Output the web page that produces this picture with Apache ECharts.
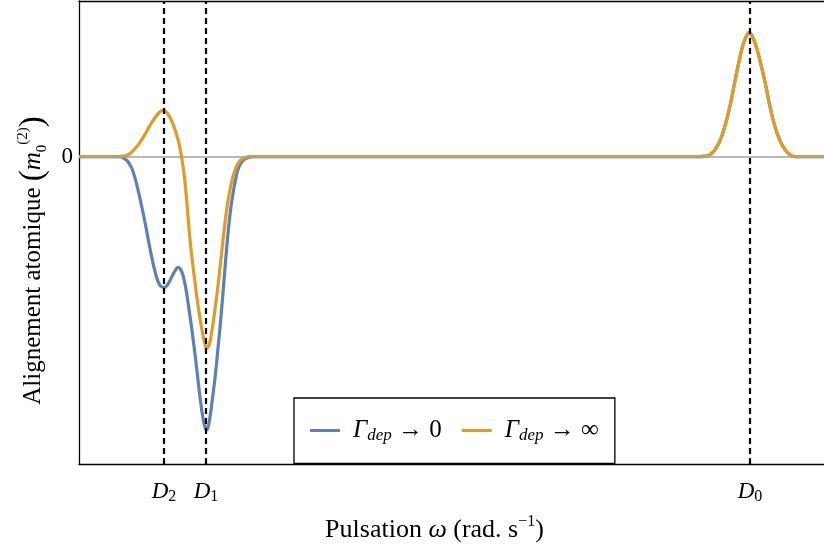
<!DOCTYPE html>
<html>
<head>
<meta charset="utf-8">
<script src="https://cdn.jsdelivr.net/npm/echarts@6/dist/echarts.min.js"></script>
<style>
  html, body { margin: 0; padding: 0; background: #fff; }
  #chart { width: 824px; height: 548px; }
</style>
</head>
<body>
<div id="chart"></div>
<script>
// pulsation (arbitrary units) / alignement
var omegaBlue = [0, 40, 44, 48, 52, 55, 58, 61, 64, 67, 70, 73, 76, 79, 82, 85, 88, 91, 94, 97, 99, 101, 103, 105, 107, 109, 112, 115, 118, 121, 124, 126, 127.5, 129, 131, 133, 136, 139, 142, 145, 148, 151, 154, 157, 160, 164, 169, 175, 230, 621]
var alignBlue = [0, 0, -1, -4, -10, -18, -29, -42, -56, -71, -87, -102, -115, -125, -130, -131, -129, -124, -118, -113, -111, -112, -116, -123, -133, -146, -167, -190, -215, -241, -262, -271, -274, -271, -261, -246, -222, -192, -160, -124, -88, -58, -37, -21, -10, -4, -1, 0, 0, 0]

var omegaOrange = [0, 40, 44, 48, 52, 56, 60, 64, 68, 72, 76, 80, 84, 87, 90, 93, 96, 99, 101, 103, 105, 107, 109, 111, 113.5, 116, 118, 121, 124, 126, 127.5, 129, 131, 133, 136, 139, 142, 145, 148, 151, 154, 157, 161, 166, 171, 230, 621]
var alignOrange = [0, 0, 0.5, 1.5, 4, 8, 13, 19, 26, 33, 39, 44, 46.3, 45, 41, 35, 27, 17, 8, -3, -17, -36, -60, -83, -106, -126, -142, -162, -179, -188, -192, -191, -185, -174, -153, -129, -102, -75, -51, -33, -20, -11, -4, -1, 0, 0, 0]

// raie D0, identique pour les deux courbes
var omegaD0 = [626, 631, 636, 641, 646, 651, 656, 661, 664, 667, 669, 670, 671, 673, 676, 679, 681, 686, 691, 696, 701, 706, 711, 716, 721, 745]
var alignD0 = [0.5, 2, 7, 16, 31, 51, 76, 100, 112, 120, 123.5, 124.3, 124, 121.5, 114, 104, 96, 75, 50, 30, 16, 7, 2, 0, 0, 0]

var lineNames = ['D2', 'D1', 'D0']
var linePos = [85, 127, 671]

function zip(xs, ys) {
  return xs.map(function (x, i) { return [x, ys[i]] })
}

var blueData = zip(omegaBlue, alignBlue).concat(zip(omegaD0, alignD0))
var orangeData = zip(omegaOrange, alignOrange).concat(zip(omegaD0, alignD0))

var serif = 'Liberation Serif'
var frame = { show: true, onZero: false, lineStyle: { color: '#000', width: 1.3 } }
var chart = echarts.init(document.getElementById('chart'))

var option = {
  animation: false,
  grid: { left: 79, right: 0, top: 1, bottom: 83 },
  legend: {
    left: 294,
    top: 398,
    padding: [20, 16, 19, 16],
    borderColor: '#000',
    borderWidth: 1.3,
    backgroundColor: '#fff',
    icon: 'rect',
    itemWidth: 30,
    itemHeight: 3,
    itemGap: 20,
    data: ['g0', 'ginf'],
    formatter: function (name) {
      return '{G|Γ}{s|dep}{t| → ' + (name === 'g0' ? '0' : '∞') + '}'
    },
    textStyle: {
      rich: {
        G: { fontFamily: serif, fontStyle: 'italic', fontSize: 25, color: '#000', padding: [0, 0, 0, 8] },
        s: { fontFamily: serif, fontStyle: 'italic', fontSize: 17, color: '#000', verticalAlign: 'bottom', lineHeight: 28 },
        t: { fontFamily: serif, fontSize: 25, color: '#000' }
      }
    }
  },
  xAxis: [{
    type: 'value',
    position: 'bottom',
    min: 0,
    max: 745,
    axisLine: frame,
    splitLine: { show: false },
    axisTick: { show: false },
    axisLabel: {
      customValues: linePos,
      margin: 15,
      formatter: function (v) {
        var k = linePos.indexOf(v)
        return '{d|D}{n|' + lineNames[k].slice(1) + '}'
      },
      rich: {
        d: { fontFamily: serif, fontStyle: 'italic', fontSize: 23, color: '#000' },
        n: { fontFamily: serif, fontSize: 16, color: '#000', verticalAlign: 'bottom', lineHeight: 26 }
      }
    },
    name: '{a|Pulsation }{w|ω}{a| (rad. s}{p|−1}{a|)}',
    nameLocation: 'middle',
    nameGap: 50,
    nameTextStyle: {
      padding: [0, 34, 0, 0],
      rich: {
        a: { fontFamily: serif, fontSize: 26, color: '#000', lineHeight: 32 },
        w: { fontFamily: serif, fontStyle: 'italic', fontSize: 26, color: '#000', lineHeight: 32 },
        p: { fontFamily: serif, fontSize: 16, color: '#000', verticalAlign: 'top', lineHeight: 32 }
      }
    }
  }, {
    type: 'value',
    position: 'top',
    min: 0,
    max: 745,
    axisLine: frame,
    splitLine: { show: false },
    axisTick: { show: false },
    axisLabel: { show: false }
  }],
  yAxis: {
    type: 'value',
    min: -308,
    max: 156,
    axisLine: frame,
    splitLine: { show: false },
    axisTick: { show: true, customValues: [0], inside: true, length: 5, lineStyle: { color: '#000', width: 1.3 } },
    axisLabel: {
      customValues: [0],
      margin: 6,
      fontFamily: serif,
      fontSize: 23,
      color: '#000'
    },
    name: '{a|Alignement atomique }{b|(}{m|m}{s|0}{p|(2)}{b|)}',
    nameLocation: 'middle',
    nameGap: 29,
    nameTextStyle: {
      padding: [0, 56, 0, 0],
      rich: {
        a: { fontFamily: serif, fontSize: 25, color: '#000', lineHeight: 34 },
        b: { fontFamily: serif, fontSize: 33, color: '#000', lineHeight: 34 },
        m: { fontFamily: serif, fontStyle: 'italic', fontSize: 25, color: '#000', lineHeight: 34 },
        s: { fontFamily: serif, fontSize: 15, color: '#000', verticalAlign: 'bottom', lineHeight: 34 },
        p: { fontFamily: serif, fontSize: 15, color: '#000', verticalAlign: 'top', lineHeight: 34 }
      }
    }
  },
  series: [
    { // ligne du zéro
      type: 'line',
      data: [],
      z: 1,
      silent: true,
      markLine: {
        symbol: 'none',
        silent: true,
        label: { show: false },
        lineStyle: { color: '#a0a0a0', width: 1.6, type: 'solid' },
        data: [{ yAxis: 0 }]
      }
    },
    {
      name: 'g0',
      type: 'line',
      z: 3,
      showSymbol: false,
      symbol: 'none',
      smooth: 0.5,
      lineStyle: { color: '#5E81B5', width: 3.2 },
      itemStyle: { color: '#5E81B5' },
      data: blueData
    },
    {
      name: 'ginf',
      type: 'line',
      z: 4,
      showSymbol: false,
      symbol: 'none',
      smooth: 0.5,
      lineStyle: { color: '#E19C24', width: 3.2 },
      itemStyle: { color: '#E19C24' },
      data: orangeData
    },
    { // raies D2, D1, D0
      type: 'line',
      data: [],
      z: 5,
      silent: true,
      markLine: {
        symbol: 'none',
        silent: true,
        label: { show: false },
        lineStyle: { color: '#000', width: 2.2, type: [6, 4] },
        data: linePos.map(function (p) { return { xAxis: p } })
      }
    }
  ]
}
chart.setOption(option)
</script>
</body>
</html>
